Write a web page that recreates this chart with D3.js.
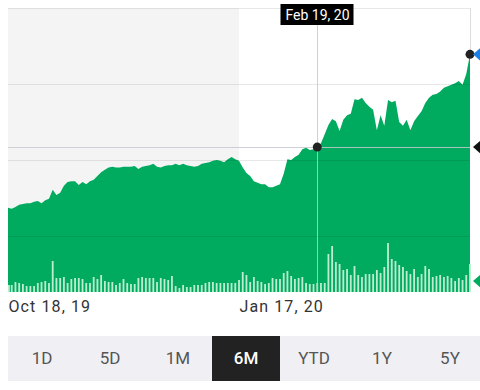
<!DOCTYPE html>
<html>
<head>
<meta charset="utf-8">
<script src="https://d3js.org/d3.v7.min.js"></script>
<style>
  body { margin: 0; background: #fff; }
  svg { display: block; font-family: Roboto, "Noto Sans", sans-serif; }
</style>
</head>
<body>
<script>
// size of the svg and the plot box inside it
var w = 480;
var h = 390;
var plotLeft = 8;
var plotRight = 470;
var plotTop = 8;
var plotBottom = 292;

// daily closing prices, Oct 18, 19 onwards
var prices = [
  103.7, 103.6, 103.8, 104.1, 104.2, 104.3, 104.3, 104.5, 104.6, 104.3,
  104.7, 104.9, 106.1, 105.4, 105.7, 106.6, 107.1, 107.2, 107.2, 106.7,
  107.1, 106.8, 107.2, 107.4, 107.9, 108.4, 108.7, 109.0, 109.1, 109.0,
  109.0, 109.1, 109.1, 109.1, 109.2, 108.8, 109.1, 109.2, 109.3, 109.5,
  109.1, 109.0, 109.2, 109.3, 109.3, 109.5, 109.3, 109.5, 109.3, 109.2,
  109.1, 109.2, 109.5, 109.6, 109.7, 109.9, 110.0, 109.9, 109.7, 110.1,
  110.4, 110.1, 109.9, 109.0, 108.3, 107.9, 107.2, 107.0, 106.8, 106.8,
  106.4, 106.4, 106.6, 106.8, 108.2, 110.1, 110.0, 110.4, 110.7, 111.4,
  111.6, 111.3, 111.4, 111.7, 112.2, 113.4, 114.6, 115.4, 115.1, 113.8,
  115.3, 115.9, 116.1, 118.0, 117.9, 118.2, 117.5, 117.0, 116.6, 113.9,
  115.9, 114.5, 117.9, 117.6, 117.8, 115.0, 114.5, 115.3, 113.9, 115.1,
  115.8, 116.4, 117.5, 118.2, 118.6, 118.7, 119.0, 119.5, 119.7, 119.9,
  120.1, 120.4, 119.9, 121.3, 123.9
];

// daily volume in millions
var volumes = [
   7,  7, 10,  9,  8,  6,  6,  6,  9, 10,
  11,  9, 31, 14, 14, 15,  9, 13, 14, 14,
  13,  9,  9, 15, 13, 17, 11, 10, 10,  7,
   9, 13,  9,  8,  8, 14, 15, 14, 14, 14,
  10, 14, 13, 12, 16,  6,  4,  7,  5,  5,
   7,  7,  7,  9, 10, 10,  9,  9,  9,  9,
   9,  9, 12, 20, 17, 10, 15, 11, 10,  8,
   9, 14, 13, 13, 19, 21, 16, 13, 14, 15,
   9,  8,  8,  9,  9,  9, 38, 46, 30, 28,
  22, 23, 17, 26, 17, 15, 18, 18, 18, 22,
  19, 25, 49, 33, 31, 27, 25, 21, 18, 23,
  15, 18, 26, 23, 15, 16, 17, 15, 16, 14,
  11, 14, 12, 17, 28
];

// date labels under the chart and the day they belong to
var tickDays = [0, 62];
var tickLabels = ["Oct 18, 19", "Jan 17, 20"];

// price gridlines
var gridValues = [100, 110, 120, 130];

// hovered day and its label
var hoverDay = 83;
var hoverLabel = "Feb 19, 20";

// range buttons
var ranges = ["1D", "5D", "1M", "6M", "YTD", "1Y", "5Y"];
var activeRange = "6M";

var green = "#00ab5f";

/*
drawing functions
*/

// draws the price area, volume bars and grid
function drawChart(svg, x, y, vy) {

  // light grey shading for the older part of the range
  svg.append("rect")
     .attr("x", plotLeft)
     .attr("y", plotTop)
     .attr("width", x(tickDays[1]) - plotLeft)
     .attr("height", plotBottom - plotTop)
     .attr("fill", "#f4f4f4");

  // price area down to the bottom of the plot
  var area = d3.area()
      .x(function(d, i) { return x(i); })
      .y0(plotBottom)
      .y1(function(d) { return y(d); });

  svg.append("path")
     .datum(prices)
     .attr("d", area)
     .attr("fill", green);

  // volume bars
  svg.selectAll(".vol")
     .data(volumes)
     .enter()
     .append("rect")
     .attr("class", "vol")
     .attr("x", function(d, i) { return Math.max(plotLeft, x(i) - 0.9); })
     .attr("y", function(d) { return vy(d); })
     .attr("width", 1.8)
     .attr("height", function(d) { return plotBottom - vy(d); })
     .attr("fill", "#bcedd0");

  // gridlines
  svg.selectAll(".grid")
     .data(gridValues)
     .enter()
     .append("line")
     .attr("class", "grid")
     .attr("x1", plotLeft)
     .attr("x2", plotRight)
     .attr("y1", function(d) { return Math.round(y(d)) + 0.5; })
     .attr("y2", function(d) { return Math.round(y(d)) + 0.5; })
     .attr("stroke", "#000")
     .attr("stroke-opacity", 0.09);

  // right border above the last price
  svg.append("line")
     .attr("x1", plotRight + 0.5)
     .attr("x2", plotRight + 0.5)
     .attr("y1", plotTop)
     .attr("y2", y(prices[prices.length - 1]))
     .attr("stroke", "#dcdcdc");
}

// draws crosshair, dots, label box and the side markers
function drawHover(svg, x, y, vy) {
  var hx = Math.round(x(hoverDay)) + 0.5;
  var hy = Math.round(y(prices[hoverDay])) + 0.5;
  var lastDay = prices.length - 1;

  // crosshair lines
  svg.append("line")
     .attr("x1", hx).attr("x2", hx)
     .attr("y1", 20).attr("y2", plotBottom)
     .attr("stroke", "#c6c8ce")
     .attr("stroke-opacity", 0.85);

  svg.append("line")
     .attr("x1", plotLeft).attr("x2", plotRight)
     .attr("y1", hy).attr("y2", hy)
     .attr("stroke", "#c6c8ce")
     .attr("stroke-opacity", 0.85);

  // dots on the hovered and last price
  svg.append("circle")
     .attr("cx", x(hoverDay))
     .attr("cy", y(prices[hoverDay]))
     .attr("r", 4.5)
     .attr("fill", "#222");

  svg.append("circle")
     .attr("cx", x(lastDay))
     .attr("cy", y(prices[lastDay]))
     .attr("r", 4.5)
     .attr("fill", "#222");

  // date box above the crosshair
  svg.append("rect")
     .attr("x", hx - 37)
     .attr("y", 4)
     .attr("width", 73)
     .attr("height", 21)
     .attr("fill", "#000");

  svg.append("text")
     .attr("x", hx)
     .attr("y", 20)
     .attr("text-anchor", "middle")
     .attr("fill", "#fff")
     .style("font-size", "14px")
     .text(hoverLabel);

  // pointers on the right edge
  var markers = [
    {cy: y(prices[lastDay]), color: "#1c7fe6"},
    {cy: y(prices[hoverDay]), color: "#111"},
    {cy: vy(volumes[lastDay]) + 17, color: green}
  ];

  svg.selectAll(".marker")
     .data(markers)
     .enter()
     .append("path")
     .attr("class", "marker")
     .attr("d", function(d) {
       return "M473," + d.cy + "L481," + (d.cy - 7) + "L481," + (d.cy + 7) + "Z";
     })
     .attr("fill", function(d) { return d.color; });
}

// date labels under the chart
function drawAxis(svg, x) {
  var axis = d3.axisBottom(x)
      .tickValues(tickDays)
      .tickFormat(function(d, i) { return tickLabels[i]; })
      .tickSize(0)
      .tickPadding(0);

  var g = svg.append("g")
     .attr("transform", "translate(0," + (plotBottom + 8) + ")")
     .call(axis);

  g.select(".domain").remove();
  g.selectAll("text")
   .attr("text-anchor", "start")
   .attr("dy", "0.75em")
   .attr("fill", "#333")
   .style("font-size", "16px")
   .style("letter-spacing", "1.1px")
   .style("font-family", "Roboto, sans-serif");
}

// range buttons along the bottom
function drawButtons(svg) {
  var band = d3.scaleBand()
      .domain(ranges)
      .range([plotLeft, plotLeft + 68 * ranges.length]);

  svg.append("rect")
     .attr("x", plotLeft)
     .attr("y", 336)
     .attr("width", w - plotLeft)
     .attr("height", 45)
     .attr("fill", "#f0f0f4");

  svg.append("rect")
     .attr("x", band(activeRange))
     .attr("y", 336)
     .attr("width", band.bandwidth())
     .attr("height", 45)
     .attr("fill", "#222");

  svg.selectAll(".range")
     .data(ranges)
     .enter()
     .append("text")
     .attr("class", "range")
     .attr("x", function(d) { return band(d) + band.bandwidth() / 2; })
     .attr("y", 364)
     .attr("text-anchor", "middle")
     .attr("fill", function(d) { return d == activeRange ? "#fff" : "#555"; })
     .style("font-size", "17px")
     .style("font-weight", function(d) { return d == activeRange ? "500" : "400"; })
     .text(function(d) { return d; });
}

window.onload = function() {

  var svg = d3.select("body")
              .append("svg")
              .attr("width", w)
              .attr("height", h);

  var x = d3.scaleLinear()
            .domain([0, prices.length - 1])
            .range([plotLeft, plotRight]);

  // 10 price units per 76px, gridline 100 sits at y=236
  var y = d3.scaleLinear()
            .domain([92.63, 130])
            .range([plotBottom, plotTop]);

  var vy = d3.scaleLinear()
             .domain([0, 100])
             .range([plotBottom, plotBottom - 100]);

  drawChart(svg, x, y, vy);
  drawHover(svg, x, y, vy);
  drawAxis(svg, x);
  drawButtons(svg);
};
</script>
</body>
</html>
